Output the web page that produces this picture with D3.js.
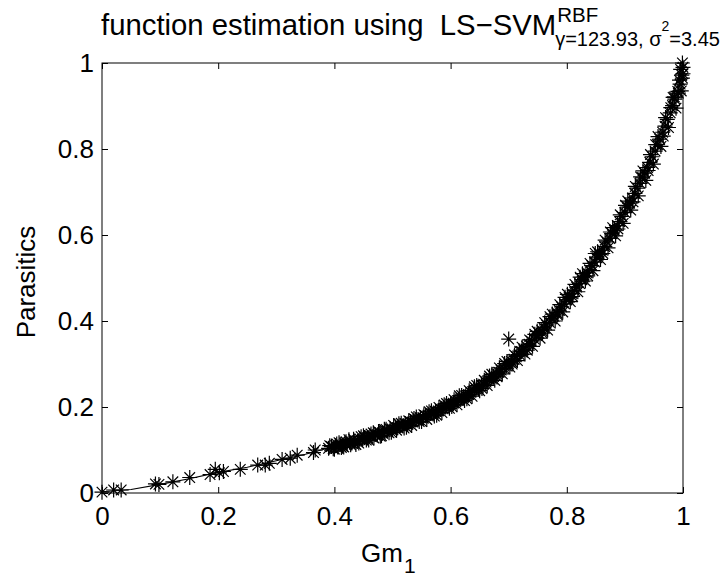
<!DOCTYPE html>
<html><head><meta charset="utf-8">
<script src="https://cdn.jsdelivr.net/npm/d3@7"></script>
<style>
body{margin:0;background:#fff}
text{font-family:"Liberation Sans",Arial,Helvetica,sans-serif;fill:#000;white-space:pre}
</style>
</head><body>
<svg id="chart" width="725" height="580"></svg>
<script>
const xTicks=[0,0.2,0.4,0.6,0.8,1];
const yTicks=[0,0.2,0.4,0.6,0.8,1];
const xTickLabels=["0","0.2","0.4","0.6","0.8","1"];
const yTickLabels=["0","0.2","0.4","0.6","0.8","1"];
const titleMain="function estimation using  LS\u2212SVM";
const titleSup="RBF";
const titleSub="\u03b3=123.93, \u03c3";
const titleSubSup="2";
const titleSubEnd="=3.45";
const xLabel="Gm";
const xLabelSub="1";
const yLabel="Parasitics";

const dataX=[0,0.02,0.033,0.092,0.098,0.122,0.151,0.186,0.195,0.202,0.209,0.238,0.268,0.281,0.288,0.31,0.324,0.336,0.364,0.367,
0.390,0.395,0.398,0.402,0.406,0.410,0.414,0.418,0.422,0.426,0.430,0.435,0.440,0.444,0.448,0.452,0.457,0.461,0.465,0.470,
0.474,0.478,0.483,0.487,0.491,0.496,0.500,0.505,0.509,0.513,0.518,0.522,0.526,0.531,0.535,0.540,0.544,0.548,0.553,0.557,
0.561,0.566,0.570,0.574,0.579,0.583,0.587,0.592,0.596,0.600,0.605,0.609,0.613,0.618,0.622,0.626,0.631,0.635,0.640,0.644,
0.648,0.653,0.657,0.661,0.666,0.670,0.674,0.679,0.683,0.687,0.692,0.696,0.700,0.700,0.705,0.709,0.713,0.718,0.722,0.726,
0.731,0.735,0.739,0.744,0.748,0.752,0.757,0.761,0.765,0.770,0.774,0.778,0.783,0.787,0.791,0.796,0.800,0.804,0.809,0.813,
0.817,0.822,0.826,0.830,0.835,0.839,0.843,0.848,0.852,0.856,0.861,0.865,0.869,0.874,0.878,0.882,0.887,0.891,0.895,0.900,
0.904,0.908,0.913,0.917,0.921,0.926,0.930,0.934,0.939,0.943,0.947,0.952,0.956,0.960,0.965,0.969,0.973,0.978,0.982,0.986,
0.991,0.995,0.998,1.000,0.999,
0.392,0.400,0.404,0.412,0.420,0.428,0.433,0.442,0.450,0.455,0.463,0.468,0.476,0.481,0.489,0.494,0.502,0.507,0.515,0.520,
0.528,0.533,0.541,0.546,0.554,0.559,0.567,0.572,0.580,0.585,0.593,0.598,0.606,0.611,0.619,0.624,0.632,0.637,0.645,0.650,
0.658,0.663,0.671,0.676,0.684,0.689,0.697,0.702,0.710,0.715,0.723,0.728,0.736,0.741,0.749,0.754,0.762,0.767,0.775,0.780,
0.788,0.793,0.801,0.806,0.814,0.819,0.827,0.832,0.840,0.845,0.853,0.858,0.866,0.871,0.879,0.884,0.892,0.897,0.905,0.910,
0.918,0.923,0.931,0.936,0.944,0.949,0.957,0.962,0.970,0.975,0.983,0.988,0.994,0.997,1.000,0.996,
0.408,0.416,0.425,0.437,0.446,0.459,0.467,0.479,0.486,0.498,0.511,0.524,0.537,0.550,0.563,0.576,0.589,0.602,0.615,0.628,
0.641,0.654,0.667,0.680,0.693,0.706,0.719,0.732,0.745,0.758,0.771,0.784,0.797,0.810,0.823,0.836,0.849,0.862,0.875,0.888,
0.901,0.914,0.927,0.940,0.953,0.966,0.979,0.992,0.985,0.999];
const dataY=[0.002,0.007,0.007,0.021,0.020,0.026,0.036,0.043,0.055,0.047,0.050,0.055,0.065,0.065,0.069,0.078,0.081,0.088,0.094,0.100,
0.104,0.108,0.103,0.110,0.107,0.113,0.109,0.115,0.114,0.118,0.116,0.121,0.120,0.125,0.124,0.129,0.128,0.133,0.131,0.136,
0.135,0.140,0.139,0.143,0.144,0.149,0.147,0.153,0.152,0.157,0.156,0.161,0.160,0.166,0.165,0.170,0.171,0.175,0.174,0.180,
0.181,0.185,0.184,0.190,0.191,0.195,0.196,0.201,0.203,0.207,0.209,0.213,0.215,0.220,0.222,0.226,0.229,0.234,0.237,0.242,
0.244,0.250,0.253,0.258,0.262,0.267,0.271,0.277,0.281,0.286,0.290,0.296,0.300,0.358,0.306,0.311,0.317,0.322,0.329,0.333,
0.341,0.346,0.353,0.358,0.366,0.371,0.378,0.384,0.391,0.397,0.405,0.411,0.419,0.425,0.433,0.440,0.449,0.455,0.464,0.471,
0.479,0.487,0.496,0.503,0.512,0.519,0.529,0.537,0.547,0.555,0.565,0.573,0.584,0.592,0.603,0.611,0.622,0.631,0.643,0.652,
0.665,0.674,0.686,0.697,0.709,0.720,0.733,0.744,0.757,0.769,0.782,0.795,0.810,0.823,0.839,0.853,0.869,0.884,0.901,0.916,
0.934,0.951,0.972,0.990,1.000,
0.110,0.102,0.114,0.106,0.119,0.112,0.125,0.116,0.133,0.123,0.137,0.128,0.143,0.133,0.148,0.140,0.157,0.146,0.162,0.151,
0.168,0.157,0.177,0.166,0.182,0.171,0.191,0.179,0.199,0.187,0.208,0.197,0.217,0.205,0.227,0.215,0.238,0.225,0.250,0.238,
0.262,0.250,0.276,0.262,0.291,0.277,0.306,0.293,0.321,0.308,0.339,0.323,0.356,0.341,0.376,0.360,0.396,0.379,0.416,0.400,
0.438,0.421,0.462,0.445,0.485,0.468,0.510,0.493,0.534,0.517,0.561,0.543,0.588,0.570,0.617,0.598,0.647,0.627,0.679,0.658,
0.713,0.691,0.749,0.727,0.787,0.765,0.829,0.806,0.873,0.850,0.920,0.895,0.960,0.935,0.975,0.985,
0.117,0.107,0.124,0.113,0.131,0.123,0.140,0.132,0.148,0.141,0.161,0.153,0.173,0.166,0.189,0.181,0.205,0.201,0.226,0.219,
0.247,0.243,0.272,0.270,0.301,0.300,0.330,0.332,0.369,0.372,0.410,0.414,0.455,0.457,0.502,0.505,0.557,0.557,0.607,0.614,
0.669,0.677,0.735,0.750,0.810,0.830,0.896,0.930,0.921,0.965];
const fitX=[0,0.05,0.1,0.15,0.2,0.25,0.3,0.35,0.4,0.45,0.5,0.55,0.6,0.65,0.7,0.75,0.8,0.85,0.9,0.95,1.0];
const fitY=[0.003,0.008,0.020,0.033,0.048,0.060,0.075,0.090,0.108,0.128,0.150,0.175,0.207,0.248,0.300,0.368,0.450,0.545,0.655,0.800,1.000];

const W=725,H=580;
const m={left:102,right:683,top:63,bottom:493};
const svg=d3.select("#chart");
svg.append("rect").attr("width",W).attr("height",H).attr("fill","#fff");

const x=d3.scaleLinear().domain([0,1]).range([m.left,m.right]);
const y=d3.scaleLinear().domain([0,1]).range([m.bottom,m.top]);

const fs=26;
function styleAxis(g){
  g.select(".domain").remove();
  g.selectAll(".tick line").attr("stroke","#000").attr("stroke-width",1);
  g.selectAll(".tick text").attr("font-size",fs).attr("font-family","Liberation Sans, Arial, sans-serif").attr("fill","#000");
}
svg.append("g").attr("transform",`translate(0,${m.bottom})`)
  .call(d3.axisBottom(x).tickValues(xTicks).tickFormat((d,i)=>xTickLabels[i]).tickSize(-6).tickSizeOuter(0).tickPadding(14))
  .call(styleAxis);
svg.append("g").attr("transform",`translate(0,${m.top})`)
  .call(d3.axisTop(x).tickValues(xTicks).tickFormat("").tickSize(-6).tickSizeOuter(0))
  .call(styleAxis);
svg.append("g").attr("transform",`translate(${m.left},0)`)
  .call(d3.axisLeft(y).tickValues(yTicks).tickFormat((d,i)=>yTickLabels[i]).tickSize(-6).tickSizeOuter(0).tickPadding(8))
  .call(styleAxis);
svg.append("g").attr("transform",`translate(${m.right},0)`)
  .call(d3.axisRight(y).tickValues(yTicks).tickFormat("").tickSize(-6).tickSizeOuter(0))
  .call(styleAxis);

svg.append("rect").attr("x",m.left).attr("y",m.top).attr("width",m.right-m.left).attr("height",m.bottom-m.top)
  .attr("fill","none").attr("stroke","#000").attr("stroke-width",1);

// fitted line
const fit=fitX.map((v,i)=>[v,fitY[i]]);
svg.append("path").datum(fit).attr("fill","none").attr("stroke","#000").attr("stroke-width",1.1)
  .attr("d",d3.line().x(d=>x(d[0])).y(d=>y(d[1])));

// data markers (asterisks)
const pts=dataX.map((v,i)=>[v,dataY[i]]);
const s=7.5,dg=5.3;
const star=`M${-s},0H${s}M0,${-s}V${s}M${-dg},${-dg}L${dg},${dg}M${-dg},${dg}L${dg},${-dg}`;
svg.append("g").selectAll("path").data(pts).join("path")
  .attr("transform",d=>`translate(${x(d[0])},${y(d[1])})`)
  .attr("d",star).attr("stroke","#000").attr("stroke-width",1.2).attr("fill","none");

// title
const tMain=svg.append("text").attr("x",101).attr("y",35).attr("font-size",29.3).attr("xml:space","preserve").text(titleMain);
const tw=tMain.node().getComputedTextLength();
const tx=101+tw+1;
svg.append("text").attr("x",tx).attr("y",22).attr("font-size",20.5).text(titleSup);
const sub=svg.append("text").attr("x",tx-2).attr("y",46).attr("font-size",20);
sub.append("tspan").text(titleSub);
sub.append("tspan").attr("font-size",14).attr("dy",-15).text(titleSubSup);
sub.append("tspan").attr("dy",15).text(titleSubEnd);

// axis labels
const xl=svg.append("text").attr("x",361).attr("y",562).attr("font-size",fs);
xl.append("tspan").text(xLabel);
xl.append("tspan").attr("font-size",21).attr("dx",1).attr("dy",11).text(xLabelSub);
svg.append("text").attr("transform",`translate(35,${(m.top+m.bottom)/2+4})rotate(-90)`).attr("text-anchor","middle").attr("font-size",fs).text(yLabel);
</script>
</body></html>
